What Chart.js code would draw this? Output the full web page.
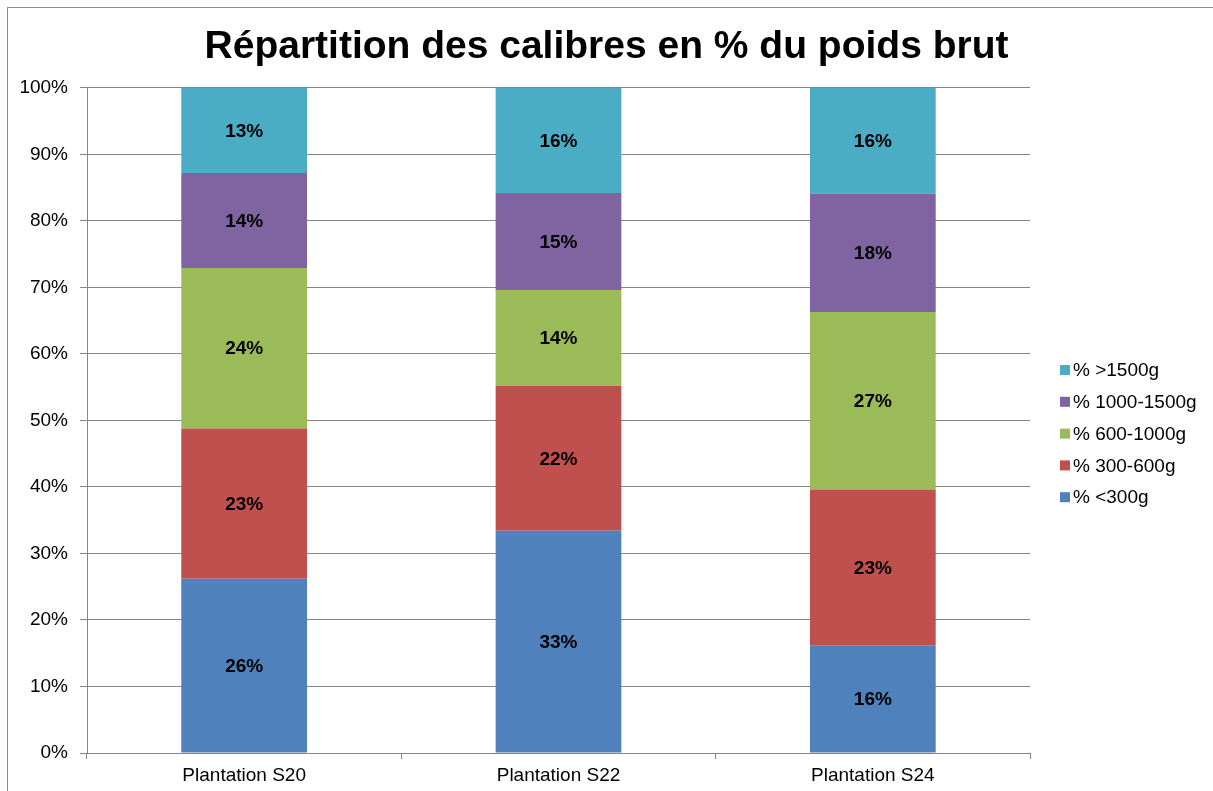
<!DOCTYPE html>
<html>
<head>
<meta charset="utf-8">
<script src="https://cdn.jsdelivr.net/npm/chart.js@4/dist/chart.umd.min.js"></script>
<style>
    body { margin:0; background:#fff; }
    #frame { position:absolute; left:7px; top:7px; width:1300px; height:900px; border-top:1px solid #8c8c8c; border-left:1px solid #8c8c8c; }
    #wrap { position:absolute; left:0; top:0; width:1213px; height:791px; }
</style>
</head>
<body>
<div id="frame"></div>
<div id="wrap"><canvas id="calibre_chart" width="1213" height="791"></canvas></div>
<script>
const categories = ["Plantation S20", "Plantation S22", "Plantation S24"];
const seriesNames = ["% <300g", "% 300-600g", "% 600-1000g", "% 1000-1500g", "% >1500g"];
const lt300 = [26.2, 33.4, 16.2];
const g300_600 = [22.6, 21.8, 23.4];
const g600_1000 = [24.1, 14.4, 26.7];
const g1000_1500 = [14.3, 14.6, 17.8];
const gt1500 = [12.8, 15.8, 15.9];
const yTicks = [0, 10, 20, 30, 40, 50, 60, 70, 80, 90, 100];

const colors = ['#4F81BD', '#C0504D', '#9BBB59', '#8064A2', '#4BACC6'];
const font = "'Liberation Sans', Arial, sans-serif";
const gridColor = '#868686';

// etiquettes au centre des segments
const valueLabels = {
    id: 'valueLabels',
    afterDatasetsDraw(chart) {
        let ctx = chart.ctx;
        ctx.save();
        ctx.font = "bold 19px " + font;
        ctx.fillStyle = '#000';
        ctx.textAlign = 'center';
        ctx.textBaseline = 'middle';
        chart.data.datasets.forEach(function(ds, i){
            chart.getDatasetMeta(i).data.forEach(function(bar, j){
                let y = (bar.y + bar.base) / 2;
                ctx.fillText(Math.round(ds.data[j]) + "%", bar.x, y + 1);
            });
        });
        ctx.restore();
    }
};

// légende à droite, ordre inversé
const sideLegend = {
    id: 'sideLegend',
    afterDraw(chart) {
        let ctx = chart.ctx;
        let area = chart.chartArea;
        let x = area.right + 30;
        let y = 370;
        ctx.save();
        ctx.font = "19px " + font;
        ctx.textBaseline = 'middle';
        ctx.textAlign = 'left';
        for (let i = chart.data.datasets.length - 1; i >= 0; i--) {
            let ds = chart.data.datasets[i];
            ctx.fillStyle = ds.backgroundColor;
            ctx.fillRect(x, y - 5, 10, 10);
            ctx.fillStyle = '#000';
            ctx.fillText(ds.label, x + 13, y + 1);
            y += 31.8;
        }
        ctx.restore();
    }
};

const seriesData = [lt300, g300_600, g600_1000, g1000_1500, gt1500];

new Chart(document.getElementById("calibre_chart"), {
    type: "bar",
    data: {
        labels: categories,
        datasets: seriesData.map(function(d, i){
            return {
                label: seriesNames[i],
                data: d,
                backgroundColor: colors[i],
                borderWidth: 0,
                barPercentage: 0.4,
                categoryPercentage: 1
            };
        })
    },
    options: {
        responsive: false,
        animation: false,
        layout: { padding: { left: 0, right: 0, top: 8, bottom: 0 } },
        plugins: {
            legend: { display: false },
            tooltip: { enabled: false },
            title: {
                display: true,
                text: "Répartition des calibres en % du poids brut",
                color: '#000',
                font: { family: font, size: 39, weight: 'bold' },
                padding: { top: 16, bottom: 17 }
            }
        },
        scales: {
            x: {
                stacked: true,
                grid: { offset: true, drawOnChartArea: false, color: gridColor, tickLength: 6 },
                border: { color: gridColor },
                ticks: { color: '#000', font: { family: font, size: 19 }, padding: 5, maxRotation: 0 },
                afterFit(scale) { scale.height = 38; }
            },
            y: {
                stacked: true,
                min: 0,
                max: 100,
                afterBuildTicks(scale) { scale.ticks = yTicks.map(v => ({ value: v })); },
                grid: { color: gridColor, tickLength: 7 },
                border: { color: gridColor },
                ticks: {
                    color: '#000',
                    font: { family: font, size: 19 },
                    padding: 12,
                    callback: v => v + "%"
                },
                afterFit(scale) { scale.width = 87; }
            },
            // place réservée à la légende
            legendSpace: {
                type: 'linear',
                position: 'right',
                display: true,
                grid: { display: false },
                border: { display: false },
                ticks: { display: false },
                afterFit(scale) { scale.width = 183; }
            }
        }
    },
    plugins: [valueLabels, sideLegend]
});
</script>
</body>
</html>
